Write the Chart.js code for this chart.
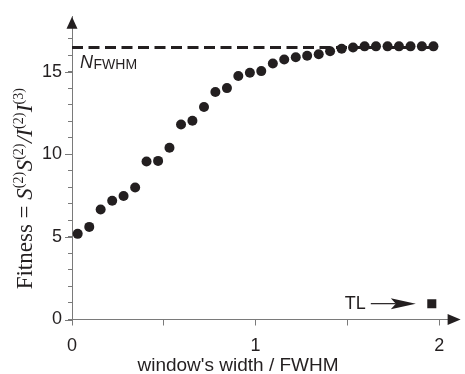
<!DOCTYPE html>
<html>
<head>
<meta charset="utf-8">
<script src="https://cdn.jsdelivr.net/npm/chart.js@4"></script>
<style>
  body { margin: 0; background: #fff; }
  #fit-chart { display: block; }
</style>
</head>
<body>
<canvas id="fit-chart" width="465" height="374"></canvas>
<script>
// window's width in units of FWHM
const widths = [0.031, 0.094, 0.156, 0.219, 0.281, 0.344, 0.406, 0.469,
                0.531, 0.594, 0.656, 0.719, 0.781, 0.844, 0.906, 0.969,
                1.031, 1.094, 1.156, 1.219, 1.281, 1.344, 1.406, 1.469,
                1.531, 1.594, 1.656, 1.719, 1.781, 1.844, 1.906, 1.969];
// fitness
const fitness = [5.19, 5.61, 6.67, 7.20, 7.48, 8.00, 9.57, 9.61,
                 10.41, 11.82, 12.04, 12.88, 13.78, 14.02, 14.75, 14.95,
                 15.05, 15.51, 15.75, 15.89, 15.98, 16.07, 16.25, 16.40,
                 16.48, 16.55, 16.55, 16.55, 16.55, 16.55, 16.55, 16.55];
const nFwhm = 16.48;          // dashed level
const nFwhmSpan = [0, 1.969];
const tlPoint = { x: 1.96, y: 0.96 };

const xTicks = [0, 0.5, 1, 1.5, 2];
const xTickLabels = ['0', '', '1', '', '2'];
const yTicks = [0, 1, 2, 3, 4, 5, 6, 7, 8, 9, 10, 11, 12, 13, 14, 15, 16, 17];
const yMajor = [0, 5, 10, 15];

const ink = '#231f20';
const axisGray = '#7a7a7a';
const sans = "'Liberation Sans', Arial, sans-serif";
const serif = "'Liberation Serif', 'Times New Roman', serif";

// arrows, long ticks and the hand drawn labels
const extras = {
  id: 'extras',
  afterDraw(chart) {
    const { ctx, chartArea: a, scales: { x, y } } = chart;
    ctx.save();

    // longer major ticks on y
    ctx.strokeStyle = axisGray;
    ctx.lineWidth = 1;
    yMajor.forEach(v => {
      const py = Math.round(y.getPixelForValue(v)) + 0.5;
      ctx.beginPath();
      ctx.moveTo(a.left - 7, py);
      ctx.lineTo(a.left, py);
      ctx.stroke();
    });

    // axis arrowheads
    ctx.fillStyle = ink;
    ctx.beginPath();
    ctx.moveTo(a.left, a.top);
    ctx.lineTo(a.left - 5.5, a.top + 12);
    ctx.lineTo(a.left + 5.5, a.top + 12);
    ctx.closePath();
    ctx.fill();
    const bx = y.getPixelForValue(0);
    ctx.beginPath();
    ctx.moveTo(a.right + 2, bx);
    ctx.lineTo(a.right - 11, bx - 5.5);
    ctx.lineTo(a.right - 11, bx + 5.5);
    ctx.closePath();
    ctx.fill();

    // N_FWHM label
    const ny = y.getPixelForValue(nFwhm) + 21;
    ctx.textBaseline = 'alphabetic';
    ctx.textAlign = 'left';
    ctx.font = 'italic 18px ' + sans;
    ctx.fillText('N', 80, ny);
    const nw = ctx.measureText('N').width;
    ctx.font = '14px ' + sans;
    ctx.fillText('FWHM', 80 + nw + 0.5, ny + 1);

    // TL arrow
    const tx = x.getPixelForValue(tlPoint.x);
    const ty = y.getPixelForValue(tlPoint.y);
    const tip = tx - 16;
    ctx.strokeStyle = ink;
    ctx.lineWidth = 1.2;
    ctx.beginPath();
    ctx.moveTo(tip - 45, ty);
    ctx.lineTo(tip - 20, ty);
    ctx.stroke();
    ctx.beginPath();
    ctx.moveTo(tip, ty);
    ctx.lineTo(tip - 25, ty - 5.5);
    ctx.lineTo(tip - 20, ty);
    ctx.lineTo(tip - 25, ty + 5.5);
    ctx.closePath();
    ctx.fill();
    ctx.font = '18px ' + sans;
    ctx.textAlign = 'right';
    ctx.textBaseline = 'middle';
    ctx.fillText('TL', tip - 50, ty + 0.5);

    // x title
    ctx.textAlign = 'center';
    ctx.font = '19px ' + sans;
    ctx.fillText("window's width / FWHM", 238, 366);

    // y title, rotated, with italic symbols and superscripts
    const parts = [
      ['Fitness = ', 'n'], ['S', 'i'], ['(2)', 's'], ['S', 'i'], ['(2)', 's'],
      ['/', 'i'], ['I', 'i'], ['(2)', 's'], ['I', 'i'], ['(3)', 's']
    ];
    const fontOf = k => k === 's' ? '14px ' + serif : (k === 'i' ? 'italic 23px ' + serif : '23px ' + serif);
    let total = 0;
    parts.forEach(p => { ctx.font = fontOf(p[1]); total += ctx.measureText(p[0]).width + (p[1] === 's' ? 0.5 : 0); });
    ctx.translate(32, 188.5 + total / 2);
    ctx.rotate(-Math.PI / 2);
    ctx.textAlign = 'left';
    ctx.textBaseline = 'alphabetic';
    let cx = 0;
    parts.forEach(p => {
      ctx.font = fontOf(p[1]);
      ctx.fillText(p[0], cx, p[1] === 's' ? -9 : 0);
      cx += ctx.measureText(p[0]).width + (p[1] === 's' ? 0.5 : 0);
    });
    ctx.restore();
  }
};

new Chart(document.getElementById('fit-chart'), {
  type: 'scatter',
  data: {
    datasets: [{
      label: 'fitness',
      data: widths.map((w, i) => ({ x: w, y: fitness[i] })),
      backgroundColor: ink,
      borderWidth: 0,
      pointRadius: 5
    }, {
      label: 'TL',
      data: [tlPoint],
      pointStyle: 'rect',
      backgroundColor: ink,
      borderWidth: 0,
      pointRadius: 6.4
    }, {
      type: 'line',
      label: 'N_FWHM',
      data: nFwhmSpan.map(v => ({ x: v, y: nFwhm })),
      borderColor: ink,
      borderWidth: 3,
      borderDash: [11, 5.5],
      pointRadius: 0,
      fill: false
    }]
  },
  options: {
    responsive: false,
    animation: false,
    layout: { padding: { top: 15, right: 2, left: 0, bottom: 0 } },
    plugins: { legend: { display: false }, tooltip: { enabled: false } },
    scales: {
      x: {
        type: 'linear',
        min: 0,
        max: 2.106,
        afterFit: s => { s.height = 54.5; },
        afterBuildTicks: s => { s.ticks = xTicks.map(v => ({ value: v })); },
        border: { color: axisGray, width: 1 },
        grid: { drawOnChartArea: false, tickLength: 6, tickColor: axisGray },
        ticks: {
          padding: 10,
          autoSkip: false,
          color: ink,
          font: { family: sans, size: 18 },
          maxRotation: 0,
          callback: (v, i) => xTickLabels[i]
        }
      },
      y: {
        type: 'linear',
        min: 0,
        max: 18.34,
        afterFit: s => { s.width = 72; },
        afterBuildTicks: s => { s.ticks = yTicks.map(v => ({ value: v })); },
        border: { color: axisGray, width: 1 },
        grid: { drawOnChartArea: false, tickLength: 4, tickColor: axisGray },
        ticks: {
          padding: 6,
          autoSkip: false,
          color: ink,
          font: { family: sans, size: 18 },
          callback: v => yMajor.includes(v) ? String(v) : ''
        }
      }
    }
  },
  plugins: [extras]
});
</script>
</body>
</html>
